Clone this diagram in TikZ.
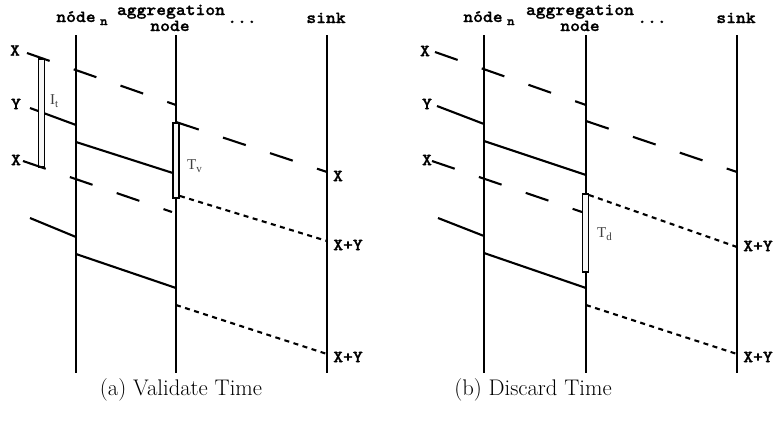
\documentclass[tikz,border=0pt]{standalone}
\usepackage{fontspec}
\newfontfamily\monob{lmmonolt10-bold.otf}[FakeStretch=1.1, FakeBold=1.2]
\newfontfamily\lblserif{Liberation Serif}
\tikzset{
  x=1pt, y=-1pt,
  hdr/.style={font=\fontsize{17}{17}\selectfont\monob, inner sep=0pt},
  subn/.style={font=\fontsize{13}{13}\selectfont\monob, inner sep=0pt},
  msg/.style={font=\fontsize{17}{17}\selectfont\monob, inner sep=0pt},
  tlabel/.style={font=\fontsize{15}{15}\selectfont\lblserif, text=black!75, inner sep=0pt},
  caption/.style={font=\fontsize{22.6}{26}\selectfont\rmfamily, inner sep=0pt},
  lifeline/.style={line width=2.2pt},
  solidmsg/.style={line width=2.1pt},
  longdash/.style={line width=2.1pt, dash pattern=on 24pt off 25.5pt},
  shortdash/.style={line width=2.1pt, dash pattern=on 5pt off 4.5pt},
  timer/.style={draw, line width=1.9pt, fill=black!3, rectangle, minimum width=6pt, inner sep=0pt},
}
\newcommand{\tsub}[2]{#1\raisebox{-2.5pt}{\fontsize{11}{11}\selectfont #2}}
\begin{document}
\begin{tikzpicture}
\useasboundingbox (0,0) rectangle (774,440);

% ---------------- (a) Validate Time ----------------
% headers
\node[hdr, anchor=base] (an) at (76,22) {nóde};
\node[subn, anchor=base west] (ansub) at ([xshift=4pt,yshift=-3pt]an.base east) {n};
\node[hdr, anchor=base] (aag1) at (171,15) {aggregation};
\node[hdr, anchor=base] (aag2) at (170,31) {node};
\node[hdr, anchor=base] (adots) at (242,23) {...};
\node[hdr, anchor=base] (asink) at (326,23) {sink};

% lifelines
\coordinate (anT) at (76,35);  \coordinate (anB) at (76,373);
\coordinate (agT) at (176,35); \coordinate (agB) at (176,373);
\coordinate (asT) at (327,35); \coordinate (asB) at (327,373);
\draw[lifeline] (anT) -- (anB);
\draw[lifeline] (agT) -- (agB);
\draw[lifeline] (asT) -- (asB);

% source labels
\node[msg] (ax1) at (15,50.5) {X};
\node[msg] (ay)  at (16,104) {Y};
\node[msg] (ax2) at (16,160) {X};

% Y reading into node_n
\coordinate (ay0) at (30,108); \coordinate (ay1) at (76,125);
\draw[solidmsg] (ay0) -- (ay1);

% interval timer I_t
\node[timer, minimum height=108pt] (it) at (41.5,113) {};
\node[tlabel, anchor=west] (itl) at (50,101) {\tsub{I}{t}};

% X readings
\coordinate (ax1s) at (27,53);  \coordinate (ax1e) at (176,105);
\draw[longdash] (ax1s) -- (ax1e);
\coordinate (ax2s) at (23,161); \coordinate (ax2e) at (172,212);
\draw[longdash] (ax2s) -- (ax2e);

% node_n -> aggregation node
\coordinate (am1s) at (76,142); \coordinate (am1e) at (176,174);
\draw[solidmsg] (am1s) -- (am1e);

% aggregation node -> sink (X)
\coordinate (ad1s) at (176,122); \coordinate (ad1e) at (327,172);
\draw[longdash] (ad1s) -- (ad1e);

% validate timer T_v
\node[timer, minimum height=75pt] (tv) at (176,160.5) {};
\node[tlabel, anchor=west] (tvl) at (187,166) {\tsub{T}{v}};

% aggregated result X+Y
\coordinate (ap1s) at (180,196); \coordinate (ap1e) at (327,241);
\draw[shortdash] (ap1s) -- (ap1e);

\node[msg] (asx)  at (338,176) {X};
\node[msg] (asxy1) at (348,245) {X+Y};

% second round
\coordinate (ar0) at (30,218);  \coordinate (ar1) at (76,237);
\draw[solidmsg] (ar0) -- (ar1);
\coordinate (am2s) at (76,254); \coordinate (am2e) at (176,288);
\draw[solidmsg] (am2s) -- (am2e);
\coordinate (ap2s) at (176,305); \coordinate (ap2e) at (327,354);
\draw[shortdash] (ap2s) -- (ap2e);
\node[msg] (asxy2) at (348,357) {X+Y};

\node[caption, anchor=base] (capa) at (181,395) {(a) Validate Time};

% ---------------- (b) Discard Time ----------------
\node[hdr, anchor=base] (bn) at (483,22) {nóde};
\node[subn, anchor=base west] (bnsub) at ([xshift=4pt,yshift=-3pt]bn.base east) {n};
\node[hdr, anchor=base] (bag1) at (580,15) {aggregation};
\node[hdr, anchor=base] (bag2) at (580,31) {node};
\node[hdr, anchor=base] (bdots) at (652,23) {...};
\node[hdr, anchor=base] (bsink) at (736,23) {sink};

\coordinate (bnT) at (484,35); \coordinate (bnB) at (484,373);
\coordinate (bgT) at (586,35); \coordinate (bgB) at (586,373);
\coordinate (bsT) at (737,35); \coordinate (bsB) at (737,373);
\draw[lifeline] (bnT) -- (bnB);
\draw[lifeline] (bgT) -- (bgB);
\draw[lifeline] (bsT) -- (bsB);

\node[msg] (bx1) at (425,51) {X};
\node[msg] (by)  at (427,104) {Y};
\node[msg] (bx2) at (427,160) {X};

\coordinate (bx1s) at (435,52);  \coordinate (bx1e) at (586,105);
\draw[longdash] (bx1s) -- (bx1e);
\coordinate (by0) at (437,106);  \coordinate (by1) at (484,124);
\draw[solidmsg] (by0) -- (by1);
\coordinate (bd1s) at (586,121); \coordinate (bd1e) at (737,172);
\draw[longdash] (bd1s) -- (bd1e);
\coordinate (bm1s) at (484,141); \coordinate (bm1e) at (586,175);
\draw[solidmsg] (bm1s) -- (bm1e);
\coordinate (bx2s) at (432,161); \coordinate (bx2e) at (582,212);
\draw[longdash] (bx2s) -- (bx2e);

% discard timer T_d
\node[timer, minimum height=78pt] (td) at (585.5,233) {};
\node[tlabel, anchor=west] (tdl) at (597,234) {\tsub{T}{d}};

\coordinate (bp1s) at (589,195); \coordinate (bp1e) at (737,247);
\draw[shortdash] (bp1s) -- (bp1e);
\node[msg] (bsxy1) at (758,246) {X+Y};

\coordinate (br0) at (438,218);  \coordinate (br1) at (484,236);
\draw[solidmsg] (br0) -- (br1);
\coordinate (bm2s) at (484,253); \coordinate (bm2e) at (586,288);
\draw[solidmsg] (bm2s) -- (bm2e);
\coordinate (bp2s) at (586,305); \coordinate (bp2e) at (737,354);
\draw[shortdash] (bp2s) -- (bp2e);
\node[msg] (bsxy2) at (758,357) {X+Y};

\node[caption, anchor=base] (capb) at (533,395) {(b) Discard Time};
\end{tikzpicture}
\end{document}
